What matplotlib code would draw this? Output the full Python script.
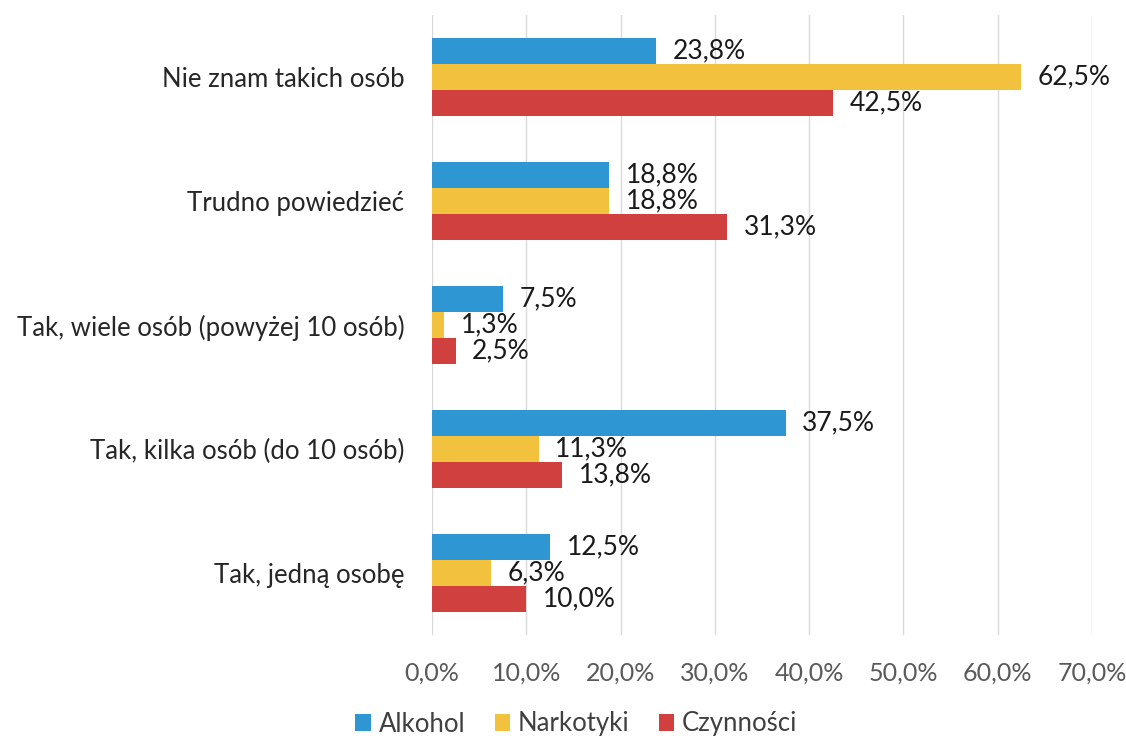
import matplotlib
matplotlib.use("Agg")
import matplotlib.pyplot as plt
import numpy as np

categories = ["Tak, jedną osobę", "Tak, kilka osób (do 10 osób)",
              "Tak, wiele osób (powyżej 10 osób)", "Trudno powiedzieć",
              "Nie znam takich osób"]
alkohol = [12.5, 37.5, 7.5, 18.8, 23.8]
narkotyki = [6.3, 11.3, 1.3, 18.8, 62.5]
czynnosci = [10.0, 13.8, 2.5, 31.3, 42.5]
series_names = ["Alkohol", "Narkotyki", "Czynności"]
colors = ["#2E96D2", "#F2C23E", "#D0403F"]
xticks = [0, 10, 20, 30, 40, 50, 60, 70]

plt.rcParams['font.family'] = ['Lato', 'DejaVu Sans']

fig = plt.figure(figsize=(11.26, 7.4), dpi=100)
ax = fig.add_axes([432/1126, 1-635/740, (1092-432)/1126, (635-15)/740])

y = np.arange(len(categories))
h = 0.21
offsets = [h, 0, -h]
data = [alkohol, narkotyki, czynnosci]
for vals, off, c, name in zip(data, offsets, colors, series_names):
    bars = ax.barh(y + off, vals, height=h, color=c, label=name, zorder=3)
    for b, v in zip(bars, vals):
        ax.annotate(f"{v:.1f}%".replace(".", ","), (v, b.get_y() + b.get_height()/2),
                    xytext=(12, 0), textcoords="offset points",
                    va="center", ha="left", fontsize=19, color="#1a1a1a", zorder=4)

ax.set_xlim(0, 70)
ax.set_ylim(-0.5, len(categories) - 0.5)
ax.set_xticks(xticks)
ax.set_xticklabels([f"{t:.1f}%".replace(".", ",") for t in xticks], fontsize=18, color="#595959")
ax.set_yticks(y)
ax.set_yticklabels(categories, fontsize=18.5, color="#262626")
ax.tick_params(axis='y', length=0, pad=20)
ax.tick_params(axis='x', length=0, pad=19)
ax.grid(axis='x', color="#D9D9D9", linewidth=1, zorder=0)
for s in ax.spines.values():
    s.set_visible(False)

leg = fig.legend(loc="center", bbox_to_anchor=(0.512, 1-724/740), ncol=3, frameon=False,
                 fontsize=18.5, handlelength=0.6, handleheight=0.6, handletextpad=0.3,
                 columnspacing=1.15)
for t in leg.get_texts():
    t.set_color("#404040")

fig.savefig("out.png", dpi=100)
